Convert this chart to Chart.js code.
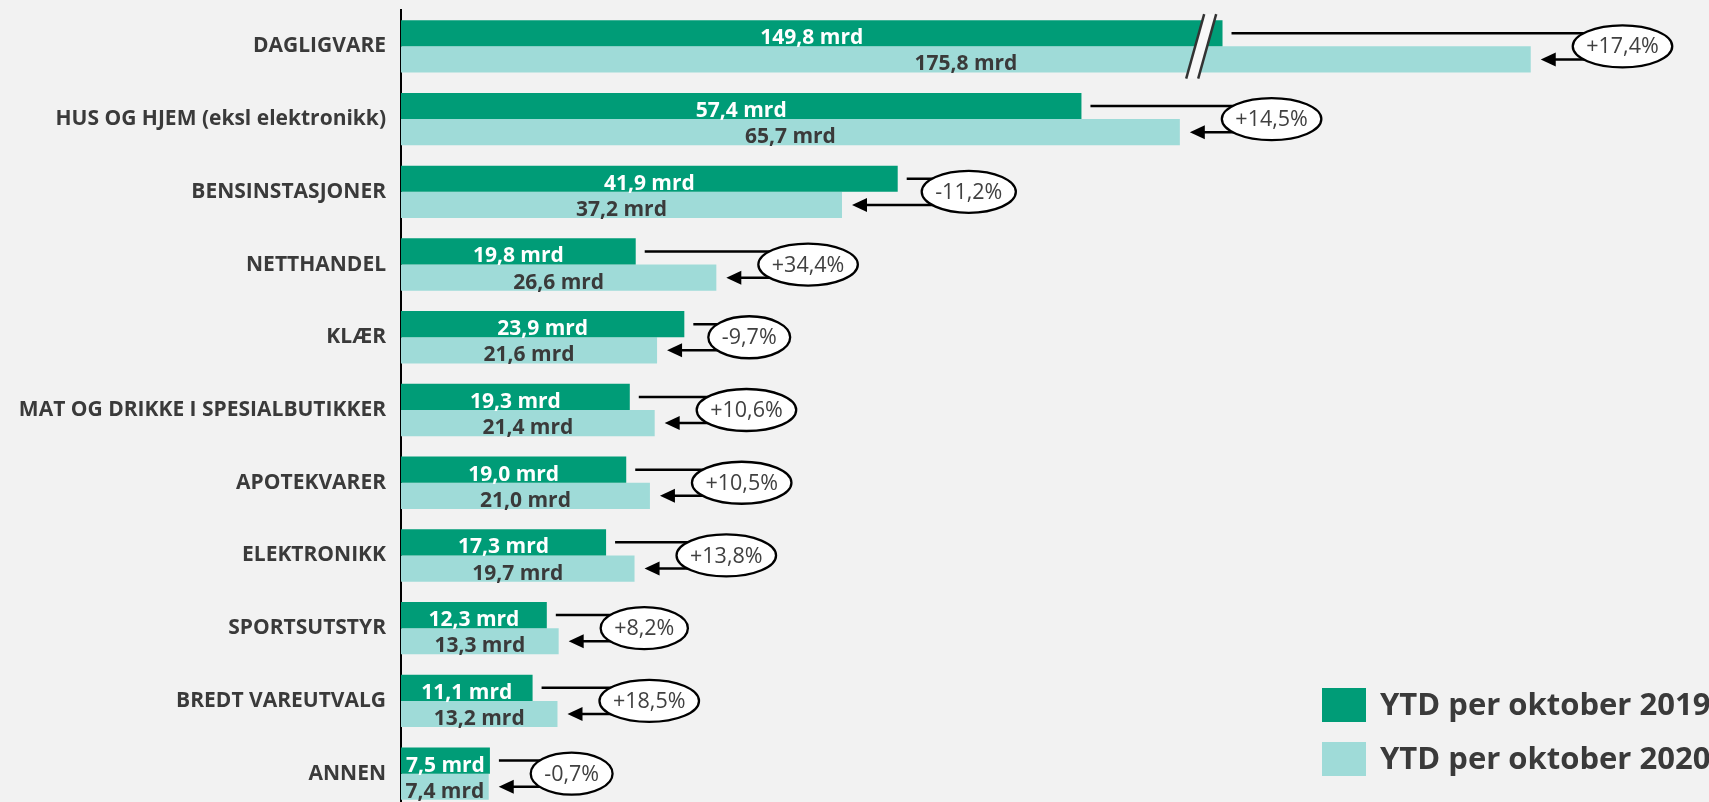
<!DOCTYPE html>
<html><head><meta charset="utf-8">
<script src="https://cdn.jsdelivr.net/npm/chart.js@4.4.1/dist/chart.umd.min.js"></script>
<style>html,body{margin:0;padding:0;background:#f2f2f2;overflow:hidden;width:1709px;height:802px}canvas{display:block}</style>
</head><body><canvas id="c" width="1709" height="812"></canvas>
<script>
const categories = ['DAGLIGVARE','HUS OG HJEM (eksl elektronikk)','BENSINSTASJONER','NETTHANDEL','KLÆR','MAT OG DRIKKE I SPESIALBUTIKKER','APOTEKVARER','ELEKTRONIKK','SPORTSUTSTYR','BREDT VAREUTVALG','ANNEN'];
const ytd2019 = [149.8, 57.4, 41.9, 19.8, 23.9, 19.3, 19.0, 17.3, 12.3, 11.1, 7.5];
const ytd2020 = [175.8, 65.7, 37.2, 26.6, 21.6, 21.4, 21.0, 19.7, 13.3, 13.2, 7.4];
const changePct = [17.4, 14.5, -11.2, 34.4, -9.7, 10.6, 10.5, 13.8, 8.2, 18.5, -0.7];
const seriesLabels = ['YTD per oktober 2019', 'YTD per oktober 2020'];
const axisBreakAt = 67.5;   // axis value where the break mark sits
const axisBreakGap = 80.5;  // amount removed from bars that cross the break

const COLORS = ['#009c77', '#9fdbd8'];
const TEXT = '#3a3a3a';
const FONT = '"Open Sans", "Noto Sans", sans-serif';
const realValues = [ytd2019, ytd2020];
const toDisplay = v => (v > axisBreakAt + axisBreakGap ? v - axisBreakGap : v);
const fmtVal = v => v.toFixed(1).replace('.', ',') + ' mrd';
const fmtPct = p => (p > 0 ? '+' : '') + p.toFixed(1).replace('.', ',') + '%';

const overlay = {
  id: 'overlay',
  afterDatasetsDraw(chart) {
    const ctx = chart.ctx;
    const xs = chart.scales.x;
    const m0 = chart.getDatasetMeta(0).data, m1 = chart.getDatasetMeta(1).data;
    ctx.save();
    // axis break marks
    categories.forEach((c, i) => {
      if (Math.max(ytd2019[i], ytd2020[i]) > axisBreakAt + axisBreakGap) {
        const g = m0[i], t = m1[i];
        const top = g.y - g.height / 2 - 6, bot = t.y + t.height / 2 + 6;
        const cx = xs.getPixelForValue(axisBreakAt);
        const s = 9, hw = 6;
        ctx.beginPath();
        ctx.moveTo(cx + s - hw, top); ctx.lineTo(cx + s + hw, top);
        ctx.lineTo(cx - s + hw, bot); ctx.lineTo(cx - s - hw, bot); ctx.closePath();
        ctx.fillStyle = '#f8f8f8'; ctx.fill();
        ctx.strokeStyle = '#333'; ctx.lineWidth = 2.5;
        ctx.beginPath(); ctx.moveTo(cx + s - hw, top); ctx.lineTo(cx - s - hw, bot); ctx.stroke();
        ctx.beginPath(); ctx.moveTo(cx + s + hw, top); ctx.lineTo(cx - s + hw, bot); ctx.stroke();
      }
    });
    // value labels
    ctx.font = 'bold 21px ' + FONT;
    ctx.textAlign = 'center'; ctx.textBaseline = 'alphabetic';
    [m0, m1].forEach((meta, di) => {
      ctx.fillStyle = di === 0 ? '#ffffff' : TEXT;
      meta.forEach((bar, i) => {
        ctx.fillText(fmtVal(realValues[di][i]), (bar.base + bar.x) / 2, bar.y + 11);
      });
    });
    // change annotations
    ctx.font = '21.5px ' + FONT;
    categories.forEach((c, i) => {
      const g = m0[i], t = m1[i];
      const txt = fmtPct(changePct[i]);
      const tw = ctx.measureText(txt).width;
      const w = tw + 27, h = 42;
      const left = Math.max(g.x + 24, t.x + 42);
      const cx = left + w / 2, cy = (g.y + t.y) / 2;
      ctx.strokeStyle = '#000'; ctx.lineWidth = 2.5; ctx.fillStyle = '#000';
      ctx.beginPath(); ctx.moveTo(g.x + 9, g.y); ctx.lineTo(cx, g.y); ctx.stroke();
      const tip = t.x + 10;
      ctx.beginPath(); ctx.moveTo(cx, t.y); ctx.lineTo(tip + 12, t.y); ctx.stroke();
      ctx.beginPath(); ctx.moveTo(tip, t.y); ctx.lineTo(tip + 15, t.y - 7); ctx.lineTo(tip + 15, t.y + 7); ctx.closePath(); ctx.fill();
      ctx.beginPath(); ctx.ellipse(cx, cy, w / 2, h / 2, 0, 0, Math.PI * 2);
      ctx.fillStyle = '#ffffff'; ctx.fill(); ctx.lineWidth = 2.3; ctx.stroke();
      ctx.fillStyle = '#404040'; ctx.textAlign = 'center'; ctx.textBaseline = 'middle';
      ctx.fillText(txt, cx, cy + 1);
    });
    ctx.restore();
  },
  afterDraw(chart) {
    const ctx = chart.ctx;
    ctx.save();
    ctx.font = 'bold 31px ' + FONT;
    ctx.textAlign = 'left'; ctx.textBaseline = 'middle';
    chart.data.datasets.forEach((ds, i) => {
      const y = 688 + i * 54;
      ctx.fillStyle = ds.backgroundColor;
      ctx.fillRect(1322, y, 44, 34);
      ctx.fillStyle = TEXT;
      ctx.fillText(ds.label, 1380, y + 18);
    });
    ctx.restore();
  }
};

function build() {
  new Chart(document.getElementById('c'), {
    type: 'bar',
    data: {
      labels: categories,
      datasets: [
        { label: seriesLabels[0], data: ytd2019.map(toDisplay), backgroundColor: COLORS[0] },
        { label: seriesLabels[1], data: ytd2020.map(toDisplay), backgroundColor: COLORS[1] }
      ]
    },
    options: {
      indexAxis: 'y',
      responsive: false,
      animation: false,
      devicePixelRatio: 1,
      layout: { padding: { top: 10, bottom: 2, right: 4, left: 0 } },
      datasets: { bar: { categoryPercentage: 0.72, barPercentage: 1.0 } },
      scales: {
        x: { min: 0, max: 110, display: false },
        y: {
          afterFit(s) { s.width = 401; s.paddingTop = 0; s.paddingBottom = 0; },
          grid: { display: false, drawTicks: false },
          border: { display: true, color: '#000', width: 2 },
          ticks: { padding: 15, color: TEXT, font: { family: FONT, weight: 'bold', size: 21 } }
        }
      },
      plugins: { legend: { display: false }, tooltip: { enabled: false } }
    },
    plugins: [overlay]
  });
}
if (document.fonts && document.fonts.load) {
  Promise.all([
    document.fonts.load('bold 21px "Open Sans"'),
    document.fonts.load('21px "Open Sans"')
  ]).then(build, build);
} else { build(); }
</script>
</body></html>
